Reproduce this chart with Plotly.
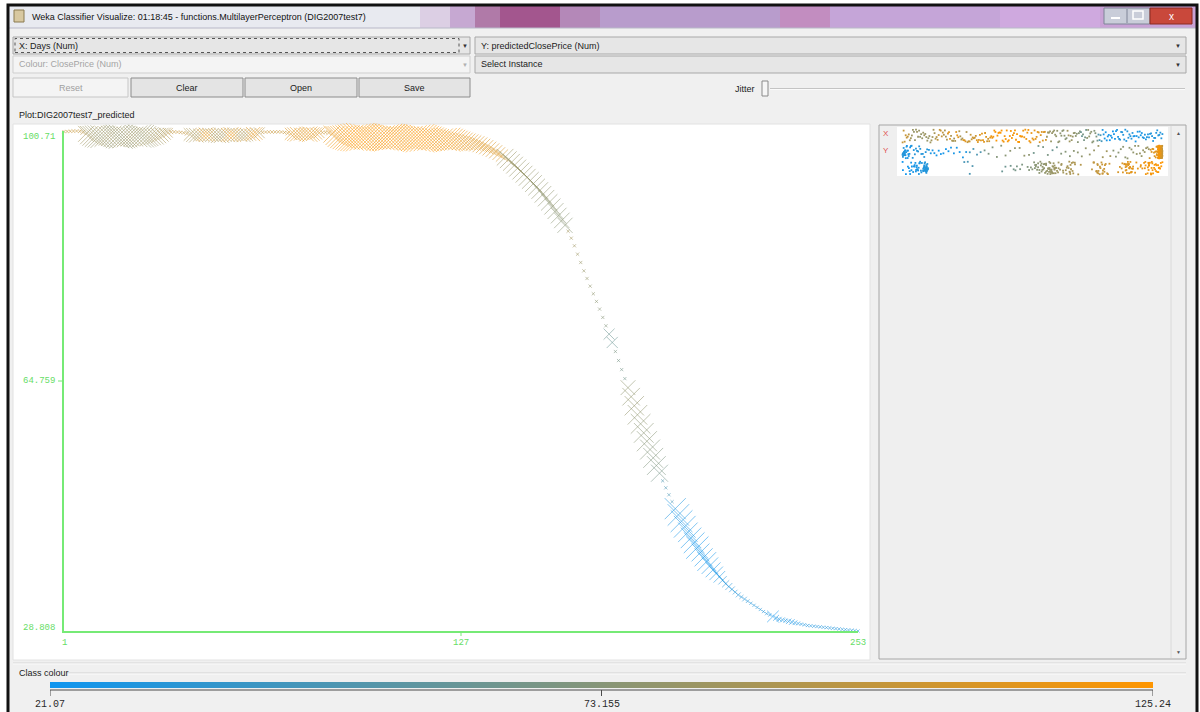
import numpy as np
import plotly.graph_objects as go

W, H = 1200, 712

# ---- data -------------------------------------------------------------
DAYS = list(range(1, 254))

PREDICTED = [
    100.62, 100.65, 100.68, 100.70, 100.71, 100.66, 100.52, 100.30, 100.12, 100.02,   # 1-10
    99.96, 99.92, 99.90, 99.93, 99.97, 100.01, 99.98, 99.92, 99.88, 99.85,            # 11-20
    99.84, 99.87, 99.91, 99.95, 99.98, 99.96, 99.93, 99.89, 99.92, 99.97,             # 21-30
    100.05, 100.18, 100.32, 100.45, 100.55, 100.58, 100.56, 100.52, 100.45, 100.35,   # 31-40
    100.22, 100.14, 100.10, 100.12, 100.16, 100.19, 100.17, 100.13, 100.09, 100.07,   # 41-50
    100.10, 100.14, 100.17, 100.19, 100.18, 100.15, 100.12, 100.13, 100.16, 100.20,   # 51-60
    100.26, 100.35, 100.45, 100.52, 100.56, 100.58, 100.57, 100.58, 100.59, 100.57,   # 61-70
    100.50, 100.40, 100.30, 100.25, 100.24, 100.26, 100.28, 100.27, 100.25, 100.28,   # 71-80
    100.36, 100.45, 100.50, 100.52, 100.44, 100.25, 100.05, 99.92, 99.85, 99.80,      # 81-90
    99.78, 99.76, 99.77, 99.79, 99.82, 99.84, 99.83, 99.80, 99.77, 99.74,             # 91-100
    99.72, 99.73, 99.76, 99.79, 99.81, 99.80, 99.78, 99.75, 99.73, 99.71,             # 101-110
    99.70, 99.68, 99.67, 99.66, 99.65, 99.63, 99.61, 99.59, 99.57, 99.55,             # 111-120
    99.52, 99.49, 99.46, 99.42, 99.38, 99.34, 99.29, 99.23, 99.16, 99.08,             # 121-130
    98.98, 98.86, 98.72, 98.56, 98.38, 98.18, 97.96, 97.72, 97.46, 97.18,             # 131-140
    96.94, 96.58, 96.20, 95.80, 95.38, 94.95, 94.50, 94.05, 93.60, 93.15,             # 141-150
    92.65, 92.15, 91.60, 91.05, 90.45, 89.85, 89.20, 88.55, 87.85, 87.15,             # 151-160
    86.30, 85.30, 84.20, 83.00, 81.80, 80.60, 79.50, 78.40, 77.30, 76.20,             # 161-170
    75.10, 73.90, 72.70, 71.50, 70.30, 69.00, 67.70, 66.40, 65.10, 63.80,             # 171-180
    62.50, 61.20, 59.90, 58.60, 57.30, 56.10, 54.90, 53.70, 52.60, 51.50,             # 181-190
    50.40, 49.40, 48.40, 47.40, 46.40, 45.50, 44.60, 43.80, 43.00, 42.20,             # 191-200
    41.50, 40.80, 40.10, 39.40, 38.80, 38.20, 37.60, 37.10, 36.60, 36.10,             # 201-210
    35.60, 35.20, 34.80, 34.40, 34.00, 33.70, 33.40, 33.10, 32.80, 32.50,             # 211-220
    32.20, 31.90, 31.60, 31.30, 31.10, 30.90, 30.70, 30.50, 30.40, 30.30,             # 221-230
    30.20, 30.10, 30.00, 29.90, 29.80, 29.70, 29.60, 29.55, 29.50, 29.45,             # 231-240
    29.40, 29.35, 29.30, 29.25, 29.20, 29.15, 29.10, 29.05, 29.00, 28.95,             # 241-250
    28.90, 28.85, 28.808,                                                             # 251-253
]

CLOSE_PRICE = [
    99.2, 100.1, 99.5, 101.3, 100.2, 98.7, 97.0, 86.5, 84.2, 82.6,          # 1-10
    81.0, 80.3, 79.8, 81.5, 83.4, 82.0, 80.5, 79.2, 78.6, 79.9,             # 11-20
    81.7, 83.0, 82.4, 80.8, 79.5, 80.2, 81.9, 83.6, 84.8, 85.5,             # 21-30
    86.9, 88.4, 90.2, 92.5, 97.8, 99.1, 101.2, 100.4, 98.9, 97.6,           # 31-40
    89.5, 88.2, 87.6, 88.9, 110.8, 112.3, 111.5, 89.4, 88.0, 87.2,          # 41-50
    86.8, 88.3, 111.9, 113.0, 112.1, 90.1, 88.6, 87.9, 89.2, 110.6,         # 51-60
    112.4, 111.0, 91.5, 99.3, 101.4, 102.0, 100.8, 99.6, 101.9, 102.5,      # 61-70
    101.1, 103.4, 110.5, 111.8, 112.6, 111.2, 110.1, 112.9, 113.4, 111.7,   # 71-80
    110.6, 109.2, 103.1, 102.2, 104.0, 114.8, 116.5, 118.2, 119.6, 120.8,   # 81-90
    121.5, 122.9, 123.8, 124.6, 125.24, 124.1, 122.7, 121.3, 120.2, 119.4,  # 91-100
    120.6, 121.9, 123.2, 124.3, 123.5, 122.1, 120.9, 119.8, 118.6, 119.9,   # 101-110
    121.2, 122.6, 123.9, 124.8, 123.6, 122.3, 121.0, 119.7, 118.4, 117.2,   # 111-120
    118.5, 119.8, 120.7, 119.3, 117.9, 116.6, 115.4, 114.3, 113.5, 112.8,   # 121-130
    112.2, 111.9, 111.4, 110.9, 110.5, 110.0, 109.4, 108.9, 108.2, 107.5,   # 131-140
    82.5, 82.0, 81.6, 81.2, 80.7, 80.3, 79.9, 79.4, 79.0, 78.6,             # 141-150
    78.1, 77.7, 77.2, 76.8, 76.3, 75.9, 75.4, 75.0, 74.5, 74.1,             # 151-160
    85.4, 84.7, 83.6, 82.1, 81.0, 80.0, 78.6, 77.5, 76.8, 75.4,             # 161-170
    74.2, 73.1, 71.8, 62.3, 61.0, 68.2, 66.9, 65.6, 64.4, 76.5,             # 171-180
    77.8, 78.2, 77.1, 75.9, 74.6, 73.8, 72.5, 71.2, 69.0, 66.3,             # 181-190
    49.1, 48.0, 47.2, 45.8, 27.8, 26.5, 25.3, 24.6, 25.9, 24.1,             # 191-200
    23.2, 21.07, 24.5, 23.6, 22.4, 23.9, 24.8, 25.6, 26.9, 29.4,            # 201-210
    30.1, 29.8, 30.6, 31.2, 30.5, 31.0, 30.2, 30.8, 31.1, 30.6,             # 211-220
    30.9, 30.4, 30.1, 29.9, 29.6, 21.2, 26.4, 27.1, 26.8, 27.5,             # 221-230
    26.2, 25.9, 26.7, 27.3, 28.1, 27.6, 28.4, 27.9, 28.6, 29.3,             # 231-240
    28.8, 29.5, 30.2, 29.8, 30.4, 29.9, 30.6, 30.1, 29.4, 30.8,             # 241-250
    31.2, 30.5, 29.7,                                                       # 251-253
]

X_TICK_VALUES = [1, 127, 253]
X_TICK_TEXT = ["1", "127", "253"]
Y_TICK_VALUES = [28.808, 64.759, 100.71]
Y_TICK_TEXT = ["28.808", "64.759", "100.71"]
CLASS_TICK_VALUES = [21.07, 73.155, 125.24]
CLASS_TICK_TEXT = ["21.07", "73.155", "125.24"]

# ---- styling ----------------------------------------------------------
CLASS_MIN, CLASS_MAX = CLASS_TICK_VALUES[0], CLASS_TICK_VALUES[-1]
# numeric class colours: rgb(r, 150, 255 - r) with r running 15 -> 255
CLASS_SCALE = [[0.0, "rgb(15,150,240)"], [0.5, "rgb(135,150,120)"], [1.0, "rgb(255,150,0)"]]
GREEN = "#76ea76"
GREEN_TEXT = "#66dd66"
UI_FONT = "Liberation Sans"
MONO_FONT = "Liberation Mono"


def fx(x):
    return x / W


def fy(y):
    return 1 - y / H


shapes = []
annotations = []


def rect(x0, y0, x1, y1, fill=None, line=None, width=1, dash="solid"):
    shapes.append(dict(
        type="rect", xref="paper", yref="paper",
        x0=fx(x0), x1=fx(x1), y0=fy(y1), y1=fy(y0),
        fillcolor=fill if fill else "rgba(0,0,0,0)",
        line=dict(color=line if line else "rgba(0,0,0,0)",
                  width=width if line else 0, dash=dash),
        layer="below"))


def seg(x0, y0, x1, y1, color, width=1):
    shapes.append(dict(
        type="line", xref="paper", yref="paper",
        x0=fx(x0), x1=fx(x1), y0=fy(y0), y1=fy(y1),
        line=dict(color=color, width=width), layer="below"))


def text(x, y, s, size=9, color="#1b1b1b", anchor="left", family=UI_FONT):
    annotations.append(dict(
        xref="paper", yref="paper", x=fx(x), y=fy(y), text=s,
        showarrow=False, xanchor=anchor, yanchor="middle",
        font=dict(family=family, size=size, color=color)))


# ---- window frame -----------------------------------------------------
rect(9, 6, 1196, 716, fill="#f0f0f0")

TITLE_BANDS = [
    (9, 420, "#e8eaf0"), (420, 450, "#dccfe4"), (450, 475, "#c6a8d2"),
    (475, 500, "#b07aa8"), (500, 560, "#a3568e"), (560, 600, "#b488b8"),
    (600, 780, "#b89ccc"), (780, 830, "#c28dc0"), (830, 1000, "#c5a5d8"),
    (1000, 1100, "#cfa9df"), (1100, 1196, "#c9a2d6"),
]
for x0, x1, c in TITLE_BANDS:
    rect(x0, 6, x1, 28, fill=c)
seg(9, 28, 1196, 28, "#b8b8c8", 1)

# window border
rect(8, 5, 1197, 716, line="#111111", width=3)

# title icon, text and caption buttons
rect(14, 10, 24, 22, fill="#d8c8a0", line="#8a7a50")
text(30, 17, "Weka Classifier Visualize: 01:18:45 - functions.MultilayerPerceptron (DIG2007test7)",
     size=9, color="#111111")
rect(1104, 8, 1150, 24, fill="#c9cdd9", line="#7e8497")
seg(1127, 9, 1127, 23, "#7e8497")
seg(1111, 18, 1120, 18, "#ffffff", 2)
rect(1133, 11, 1143, 19, line="#ffffff", width=1.5)
rect(1150, 8, 1192, 24, fill="#c9483b", line="#8a2a22")
text(1171, 16, "x", size=10, color="#ffffff", anchor="center")

# ---- combo boxes ------------------------------------------------------
rect(13, 37, 470, 54, fill="#e6e6e6", line="#a8a8a8")
rect(15, 38.5, 459, 52.5, line="#555555", width=1, dash="dot")
text(17, 45.5, "X: Days (Num)", color="#1b1b1b")
text(465, 46, "▼", size=6, color="#333333", anchor="center")

rect(475, 37, 1186, 54, fill="#e6e6e6", line="#a8a8a8")
text(479, 45.5, "Y: predictedClosePrice (Num)", color="#1b1b1b")
text(1178, 46, "▼", size=6, color="#333333", anchor="center")

rect(13, 56, 470, 73, fill="#f4f4f4", line="#cfcfcf")
text(17, 64.5, "Colour: ClosePrice (Num)", color="#a4a4a4")
text(465, 65, "▼", size=6, color="#b0b0b0", anchor="center")

rect(475, 56, 1186, 73, fill="#e6e6e6", line="#a8a8a8")
text(479, 64.5, "Select Instance", color="#1b1b1b")
text(1178, 65, "▼", size=6, color="#333333", anchor="center")

# ---- buttons ----------------------------------------------------------
rect(13, 78, 128, 97, fill="#f4f4f4", line="#c6c6c6")
text(70.5, 87.5, "Reset", color="#a0a0a0", anchor="center")
for x0, x1, label in [(131, 243, "Clear"), (245, 357, "Open"), (359, 470, "Save")]:
    rect(x0, 78, x1, 97, fill="#e4e4e4", line="#8c8c8c")
    text((x0 + x1) / 2, 87.5, label, color="#1b1b1b", anchor="center")

# jitter slider
text(757, 89, "Jitter", color="#1b1b1b", anchor="right")
seg(770, 88.5, 1185, 88.5, "#c4c4c4", 1)
seg(770, 89.5, 1185, 89.5, "#fbfbfb", 1)
rect(762, 81, 768, 96, fill="#f6f6f6", line="#8a8a8a")

text(17, 115, "Plot:DIG2007test7_predicted", color="#1b1b1b")

# ---- plot panels ------------------------------------------------------
rect(13, 124, 870, 660, fill="#ffffff", line="#e2e2e2")
rect(879, 125, 1186, 659, fill="#efefef", line="#a6a6a6")
rect(897, 127, 1168, 176, fill="#ffffff")
seg(1171, 126, 1171, 658, "#dadada", 1)
text(1178, 133, "▲", size=5, color="#555555", anchor="center")
text(1178, 652, "▼", size=5, color="#555555", anchor="center")
text(886, 134, "X", size=8, color="#e05050", anchor="center")
text(886, 151, "Y", size=8, color="#e05050", anchor="center")

# ---- class colour legend ---------------------------------------------
seg(13, 663, 1186, 663, "#d6d6d6", 1)
seg(13, 664, 1186, 664, "#fafafa", 1)
text(17, 673, "Class colour", color="#1b1b1b")
seg(66, 673, 1186, 673, "#d2d2d2", 1)
seg(66, 674, 1186, 674, "#fbfbfb", 1)
seg(50, 690, 1153, 690, "#4a4a4a", 1)
for v, t in zip(CLASS_TICK_VALUES, CLASS_TICK_TEXT):
    shapes.append(dict(type="line", xref="x2", yref="paper", x0=v, x1=v,
                       y0=fy(690), y1=fy(696), line=dict(color="#4a4a4a", width=1)))
    annotations.append(dict(xref="x2", yref="paper", x=v, y=fy(704), text=t,
                            showarrow=False, xanchor="center", yanchor="middle",
                            font=dict(family=MONO_FONT, size=10, color="#2a2a2a")))

# ---- axis labels and ticks for the main plot ---------------------------
for v, t, shift in zip(Y_TICK_VALUES, Y_TICK_TEXT, [3, 0, -6]):
    annotations.append(dict(xref="paper", yref="y", x=fx(57), y=v, yshift=shift,
                            text=t, showarrow=False, xanchor="right", yanchor="middle",
                            font=dict(family=MONO_FONT, size=9, color=GREEN_TEXT)))
for v, t in zip(X_TICK_VALUES, X_TICK_TEXT):
    annotations.append(dict(xref="x", yref="paper", x=v, y=fy(643), text=t,
                            showarrow=False, xanchor="center", yanchor="middle",
                            font=dict(family=MONO_FONT, size=9, color=GREEN_TEXT)))
shapes.append(dict(type="line", xref="x", yref="paper", x0=X_TICK_VALUES[1], x1=X_TICK_VALUES[1],
                   y0=fy(631), y1=fy(636), line=dict(color=GREEN, width=1)))
shapes.append(dict(type="line", xref="paper", yref="y", x0=fx(58), x1=fx(64),
                   y0=Y_TICK_VALUES[1], y1=Y_TICK_VALUES[1], line=dict(color=GREEN, width=1)))

# ---- traces -----------------------------------------------------------
pred = np.array(PREDICTED)
actual = np.array(CLOSE_PRICE)
err = np.abs(actual - pred)
# cross width grows with the absolute error, about 1..21 px across
cross_px = 1 + 20 * (err - err.min()) / (err.max() - err.min())
marker_size = np.maximum(cross_px * 1.35, 3.2)

fig = go.Figure()

fig.add_trace(go.Scatter(
    x=DAYS, y=PREDICTED, mode="markers", cliponaxis=False,
    marker=dict(symbol="x-thin-open", size=marker_size, color=CLOSE_PRICE,
                colorscale=CLASS_SCALE, cmin=CLASS_MIN, cmax=CLASS_MAX,
                line=dict(width=1), opacity=0.55),
    hoverinfo="skip", showlegend=False))

gradient = np.linspace(CLASS_MIN, CLASS_MAX, 400)
fig.add_trace(go.Heatmap(
    z=[gradient], x=gradient, y=[0], colorscale=CLASS_SCALE,
    zmin=CLASS_MIN, zmax=CLASS_MAX, showscale=False,
    xaxis="x2", yaxis="y2", hoverinfo="skip"))

# attribute strips: Days, predictedClosePrice, ClosePrice, each spread
# vertically by a fixed hash of the instance index
idx = np.arange(len(DAYS))
for row, values in enumerate([DAYS, PREDICTED, CLOSE_PRICE]):
    v = np.array(values, dtype=float)
    xs = (v - v.min()) / (v.max() - v.min())
    spread = (np.sin((idx + 31 * row) * 12.9898) * 43758.5453) % 1.0
    ys = (2 - row) + 0.1 + 0.8 * spread
    fig.add_trace(go.Scatter(
        x=xs, y=ys, mode="markers", xaxis="x3", yaxis="y3",
        marker=dict(symbol="square", size=1.8, color=CLOSE_PRICE,
                    colorscale=CLASS_SCALE, cmin=CLASS_MIN, cmax=CLASS_MAX,
                    line=dict(width=0)),
        hoverinfo="skip", showlegend=False))

axis_off = dict(visible=False, fixedrange=True)
fig.update_layout(
    width=W, height=H, margin=dict(l=0, r=0, t=0, b=0),
    paper_bgcolor="#ffffff", plot_bgcolor="rgba(0,0,0,0)",
    showlegend=False,
    xaxis=dict(domain=[fx(64), fx(858)], range=[1, 253], anchor="y",
               showline=True, linecolor=GREEN, linewidth=2, showgrid=False,
               zeroline=False, showticklabels=False, ticks="", fixedrange=True),
    yaxis=dict(domain=[fy(631), fy(131)], range=[28.808, 100.71], anchor="x",
               showline=True, linecolor=GREEN, linewidth=2, showgrid=False,
               zeroline=False, showticklabels=False, ticks="", fixedrange=True),
    xaxis2=dict(domain=[fx(50), fx(1153)], range=[CLASS_MIN, CLASS_MAX], anchor="y2", **axis_off),
    yaxis2=dict(domain=[fy(688), fy(682)], range=[-0.5, 0.5], anchor="x2", **axis_off),
    xaxis3=dict(domain=[fx(900), fx(1165)], range=[-0.01, 1.01], anchor="y3", **axis_off),
    yaxis3=dict(domain=[fy(176), fy(128)], range=[0, 3], anchor="x3", **axis_off),
    shapes=shapes, annotations=annotations,
)

fig.write_html("out.html")
